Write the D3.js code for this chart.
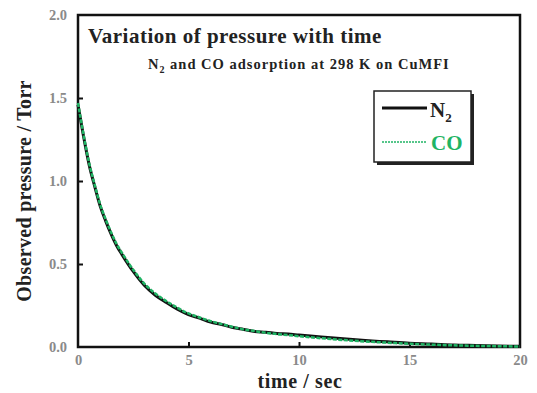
<!DOCTYPE html>
<html>
<head>
<meta charset="utf-8">
<script src="https://cdn.jsdelivr.net/npm/d3@7/dist/d3.min.js"></script>
<style>
  body { margin: 0; background: #fff; }
</style>
</head>
<body>
<div id="chart"></div>
<script>
// time in seconds
const times = [0, 0.25, 0.5, 0.75, 1, 1.25, 1.5, 1.75, 2, 2.5, 3, 3.5, 4, 4.5, 5, 5.5, 6, 6.5, 7, 7.5, 8, 8.5, 9, 9.5, 10, 11, 12, 13, 14, 15, 16, 17, 18, 19, 20];
const n2Values = [1.46, 1.27, 1.10, 0.97, 0.85, 0.76, 0.68, 0.61, 0.555, 0.455, 0.372, 0.312, 0.268, 0.228, 0.195, 0.174, 0.150, 0.136, 0.117, 0.106, 0.094, 0.089, 0.081, 0.078, 0.072, 0.061, 0.049, 0.039, 0.031, 0.023, 0.018, 0.012, 0.009, 0.006, 0.004];
const coValues = [1.47, 1.28, 1.11, 0.98, 0.86, 0.77, 0.69, 0.62, 0.565, 0.465, 0.382, 0.322, 0.276, 0.236, 0.202, 0.178, 0.156, 0.138, 0.121, 0.106, 0.096, 0.086, 0.078, 0.072, 0.065, 0.053, 0.042, 0.033, 0.026, 0.019, 0.014, 0.010, 0.007, 0.005, 0.003];
const xTicks = [0, 5, 10, 15, 20];
const yTicks = [0.0, 0.5, 1.0, 1.5, 2.0];

const width = 537, height = 393;
const margin = { top: 15, right: 17, bottom: 46, left: 78 };
const plotW = width - margin.left - margin.right;
const plotH = height - margin.top - margin.bottom;
const serif = "'Liberation Serif', 'Times New Roman', 'DejaVu Serif', serif";
const green = "#1fb464";

const svg = d3.select("#chart").append("svg")
  .attr("width", width)
  .attr("height", height)
  .attr("font-family", serif)
  .attr("font-weight", "bold");

const g = svg.append("g")
  .attr("transform", `translate(${margin.left}, ${margin.top})`);

const x = d3.scaleLinear().domain([0, 20]).range([0, plotW]);
const y = d3.scaleLinear().domain([0, 2]).range([plotH, 0]);

// frame
g.append("rect")
  .attr("width", plotW).attr("height", plotH)
  .attr("fill", "#fff").attr("stroke", "#111").attr("stroke-width", 2.5);

// axes with inward ticks
const xAxis = d3.axisBottom(x).tickValues(xTicks).tickSize(-5).tickPadding(8).tickFormat(d3.format("d"));
const yAxis = d3.axisLeft(y).tickValues(yTicks).tickSize(-5).tickPadding(11).tickFormat(d3.format(".1f"));

const gx = g.append("g").attr("transform", `translate(0, ${plotH})`).call(xAxis);
const gy = g.append("g").call(yAxis);
[gx, gy].forEach(a => {
  a.attr("font-family", serif).attr("font-weight", "bold").attr("font-size", 14.5);
  a.select(".domain").remove();
  a.selectAll(".tick line").attr("stroke", "#111").attr("stroke-width", 2);
  a.selectAll("text").attr("fill", "#8a8a8a");
});
gx.selectAll(".tick").filter(d => d === 0 || d === 20).select("line").remove();
gy.selectAll(".tick").filter(d => d === 0 || d === 2).select("line").remove();

// lines
const n2Data = times.map((t, i) => [t, n2Values[i]]);
const coData = times.map((t, i) => [t, coValues[i]]);
const line = d3.line().x(d => x(d[0])).y(d => y(d[1])).curve(d3.curveMonotoneX);

g.append("path").datum(n2Data).attr("d", line)
  .attr("fill", "none").attr("stroke", "#111").attr("stroke-width", 3);
g.append("path").datum(coData).attr("d", line)
  .attr("fill", "none").attr("stroke", green).attr("stroke-width", 2.5)
  .attr("stroke-dasharray", "4,1.5");

// titles
svg.append("text").attr("x", 88).attr("y", 43)
  .attr("font-size", 21).attr("letter-spacing", 0.5).attr("fill", "#222")
  .text("Variation of pressure with time");

const sub = svg.append("text").attr("x", 148).attr("y", 69)
  .attr("font-size", 14.5).attr("letter-spacing", 1).attr("fill", "#222");
sub.append("tspan").text("N");
sub.append("tspan").attr("dy", 4).attr("font-size", 10).text("2");
sub.append("tspan").attr("dy", -4).text(" and CO adsorption at 298 K on CuMFI");

// axis titles
svg.append("text").attr("x", 300).attr("y", 388).attr("text-anchor", "middle")
  .attr("font-size", 20).attr("letter-spacing", 0.6).attr("fill", "#222").text("time / sec");
svg.append("text").attr("transform", "translate(31, 191) rotate(-90)")
  .attr("text-anchor", "middle").attr("font-size", 20).attr("letter-spacing", 0.3).attr("fill", "#222")
  .text("Observed pressure / Torr");

// legend
const lg = svg.append("g").attr("transform", "translate(374, 91)");
lg.append("rect").attr("x", 3).attr("y", 3).attr("width", 97).attr("height", 71).attr("fill", "#222");
lg.append("rect").attr("width", 97).attr("height", 71).attr("fill", "#fff").attr("stroke", "#222").attr("stroke-width", 1.5);
lg.append("line").attr("x1", 8).attr("x2", 53).attr("y1", 17).attr("y2", 17)
  .attr("stroke", "#111").attr("stroke-width", 3);
const n2t = lg.append("text").attr("x", 56).attr("y", 26).attr("font-size", 21).attr("fill", "#222");
n2t.append("tspan").text("N");
n2t.append("tspan").attr("dy", 5).attr("font-size", 13).text("2");
lg.append("line").attr("x1", 8).attr("x2", 53).attr("y1", 51).attr("y2", 51)
  .attr("stroke", green).attr("stroke-width", 1.5).attr("stroke-dasharray", "2,1");
lg.append("text").attr("x", 57).attr("y", 59).attr("font-size", 21).attr("fill", green).text("CO");
</script>
</body>
</html>
